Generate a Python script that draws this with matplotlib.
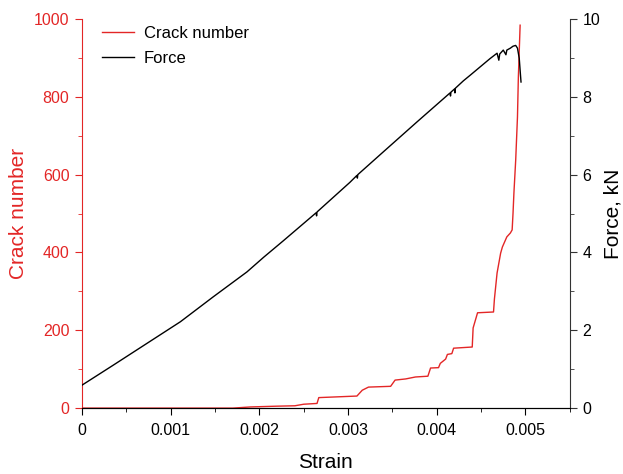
import matplotlib
matplotlib.use("Agg")
import matplotlib.pyplot as plt
from matplotlib.ticker import MultipleLocator, FuncFormatter

plt.rcParams.update({"font.family": "Liberation Sans", "font.size": 11.5})
RED = "#e32626"

# crack number vs strain
strain_crack = [0, 0.0017, 0.0019, 0.0022, 0.0024, 0.0025, 0.00265, 0.00267, 0.0031,
                0.00316, 0.00323, 0.00348, 0.00353, 0.00365, 0.00376, 0.0039, 0.00393,
                0.00402, 0.00404, 0.0041, 0.00412, 0.00417, 0.00419, 0.0044, 0.00441,
                0.00446, 0.00464, 0.00465, 0.00468, 0.00472, 0.00474, 0.00479, 0.00483,
                0.00485, 0.00486, 0.00487, 0.00489, 0.00491, 0.00492, 0.00494]
crack = [0, 0, 3, 5, 6, 10, 12, 27, 31, 46, 54, 56, 72, 75, 80, 82, 103, 104, 115, 126,
         138, 140, 154, 157, 206, 245, 247, 280, 347, 398, 414, 440, 450, 458, 501, 553,
         637, 748, 850, 984]

# force vs strain
strain_force = [0, 0.00035, 0.00073, 0.00111, 0.00148, 0.00186, 0.00205, 0.00227, 0.00264,
                0.002645, 0.00265, 0.00302, 0.0031, 0.003105, 0.00311, 0.0034, 0.00378,
                0.00415, 0.004155, 0.00416, 0.0042, 0.004205, 0.00421, 0.0043, 0.00438,
                0.0046, 0.00468, 0.0047, 0.00471, 0.00475, 0.00478, 0.00479,
                0.00483, 0.00486, 0.00489, 0.00491, 0.00493, 0.00494, 0.00495]
force = [0.59, 1.10, 1.66, 2.22, 2.86, 3.50, 3.88, 4.30, 5.02, 4.94, 5.04, 5.80, 5.98, 5.91,
         6.00, 6.59, 7.36, 8.10, 8.02, 8.12, 8.20, 8.10, 8.22, 8.41, 8.56, 8.98,
         9.12, 8.94, 9.10, 9.20, 9.08, 9.20, 9.25, 9.30, 9.32, 9.25, 8.99, 8.68, 8.38]

xticks = [0, 0.001, 0.002, 0.003, 0.004, 0.005]

fig = plt.figure(figsize=(6.23, 4.74), dpi=100)
ax = fig.add_axes([0.1316, 0.139, 0.783, 0.821])
ax2 = ax.twinx()

l1, = ax.plot(strain_crack, crack, color=RED, lw=1.0, label="Crack number")
l2, = ax2.plot(strain_force, force, color="black", lw=1.0, label="Force")

ax.set_xlim(0, 0.0055)
ax.set_ylim(0, 1000)
ax2.set_ylim(0, 10)
ax.set_xticks(xticks)
ax.xaxis.set_major_formatter(FuncFormatter(lambda v, p: "0" if v == 0 else f"{v:.3f}"))
ax.xaxis.set_minor_locator(MultipleLocator(0.0005))
ax.yaxis.set_major_locator(MultipleLocator(200))
ax.yaxis.set_minor_locator(MultipleLocator(100))
ax2.yaxis.set_major_locator(MultipleLocator(2))
ax2.yaxis.set_minor_locator(MultipleLocator(1))

for a in (ax, ax2):
    a.spines["top"].set_visible(False)
ax.spines["right"].set_visible(False)
ax.spines["left"].set_color(RED)
ax2.spines["left"].set_visible(False)
ax2.spines["right"].set_color("#333333")

ax.tick_params(axis="x", which="major", length=5, direction="out", pad=6)
ax.tick_params(axis="x", which="minor", length=3, direction="out")
ax.tick_params(axis="y", which="both", colors=RED, direction="out", pad=4)
ax.tick_params(axis="y", which="major", length=5)
ax.tick_params(axis="y", which="minor", length=3)
ax2.tick_params(axis="y", which="major", length=5, direction="out", color="#333333", pad=4)
ax2.tick_params(axis="y", which="minor", length=3, direction="out", color="#333333")

ax.set_xlabel("Strain", fontsize=15)
ax.set_ylabel("Crack number", fontsize=15, color=RED)
ax2.set_ylabel("Force, kN", fontsize=15, rotation=90)
ax.xaxis.set_label_coords(0.5, -0.139)
ax.yaxis.set_label_coords(-0.131, 0.5)
ax2.yaxis.set_label_coords(1.088, 0.5)
ax.xaxis.label.set_va("center")
ax.yaxis.label.set_va("center")
ax2.yaxis.label.set_va("center")

ax2.legend([l1, l2], ["Crack number", "Force"], loc="upper left", frameon=False,
           fontsize=12, handlelength=1.9, handletextpad=0.6, labelspacing=0.6,
           bbox_to_anchor=(0.01, 1.02))

fig.savefig("out.png", dpi=100)
